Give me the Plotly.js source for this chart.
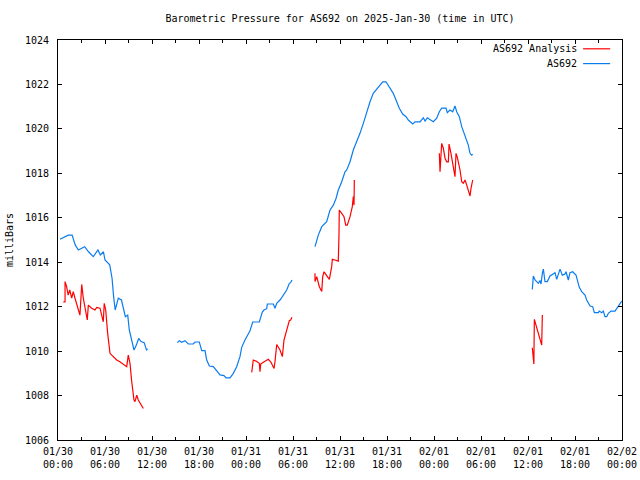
<!DOCTYPE html>
<html>
<head>
<meta charset="utf-8">
<script src="https://cdn.plot.ly/plotly-3.0.1.min.js"></script>
<style>html,body{margin:0;padding:0;background:#fff;}#chart{width:640px;height:480px;}</style>
</head>
<body>
<div id="chart"></div>
<script>
// Hours since 2025-01-30 00:00 UTC; null marks a gap in the record
var stationHours = [0.26,1.3,1.8,2.2,2.6,3.4,3.9,4.5,5.1,5.4,5.8,6.0,6.6,6.9,7.1,7.3,7.7,8.1,8.6,8.9,9.1,9.4,9.7,10.0,10.3,10.6,11.0,11.3,11.45,
  null,
  15.23,15.49,15.79,16.21,16.63,17.27,17.49,18.04,18.35,18.77,18.98,19.32,19.83,20.26,20.68,21.19,21.45,21.96,22.38,22.81,23.23,23.45,23.87,24.51,24.86,25.7,25.88,26.08,26.3,26.64,26.72,27.49,27.7,27.92,28.34,28.76,29.2,29.53,29.7,29.87,
  null,
  32.81,32.94,33.23,33.67,34.3,34.73,35.15,35.49,35.78,36.22,36.64,36.86,37.28,37.7,38.13,38.55,38.98,39.41,39.83,40.25,40.89,41.45,41.87,42.3,42.8,43.24,43.57,44.0,44.43,44.72,45.28,45.58,46.21,46.64,46.86,47.15,47.49,47.91,48.35,48.68,48.98,49.53,49.7,50.04,50.39,50.68,50.9,51.23,51.54,51.83,52.18,52.38,52.6,52.81,52.94,
  null,
  60.55,60.6,60.68,60.9,61.32,61.53,61.66,61.83,61.96,62.17,62.47,62.81,63.23,63.45,63.66,63.87,64.09,64.38,64.72,64.85,65.15,65.36,65.71,66.13,66.35,66.55,66.86,67.28,67.49,67.7,67.92,68.26,68.47,68.98,69.1,69.41,69.62,69.83,70.05,70.25,70.6,71.11,71.33,71.62,71.84,71.97];
var stationPressure = [1015.03,1015.22,1015.22,1014.78,1014.55,1014.7,1014.47,1014.25,1014.55,1014.33,1014.47,1014.1,1013.88,1013.28,1012.45,1011.85,1012.38,1012.3,1011.55,1011.62,1010.95,1010.5,1010.05,1010.27,1010.57,1010.43,1010.38,1010.05,1010.1,
  null,
  1010.38,1010.47,1010.4,1010.47,1010.32,1010.32,1010.41,1010.41,1010.02,1010.02,1009.6,1009.33,1009.3,1009.12,1008.93,1008.9,1008.8,1008.8,1009.0,1009.3,1009.75,1010.17,1010.5,1010.92,1011.31,1011.31,1011.48,1011.76,1011.85,1011.91,1012.12,1012.12,1011.93,1012.15,1012.3,1012.52,1012.75,1013.05,1013.08,1013.2,
  null,
  1014.7,1014.88,1015.22,1015.6,1015.82,1016.35,1016.57,1016.87,1017.25,1017.62,1018.07,1018.15,1018.52,1019.05,1019.42,1019.8,1020.25,1020.77,1021.22,1021.6,1021.9,1022.12,1022.12,1021.9,1021.6,1021.22,1020.93,1020.67,1020.55,1020.4,1020.22,1020.32,1020.32,1020.5,1020.35,1020.5,1020.4,1020.32,1020.48,1020.77,1020.93,1020.93,1020.73,1020.85,1020.77,1021.03,1020.77,1020.55,1020.1,1019.8,1019.5,1019.27,1018.9,1018.82,1018.86,
  null,
  1012.78,1013.1,1013.38,1013.2,1013.05,1013.18,1013.02,1013.5,1013.69,1013.13,1013.13,1013.38,1013.5,1013.53,1013.23,1013.42,1013.69,1013.42,1013.47,1013.57,1013.2,1013.53,1013.57,1013.42,1013.05,1012.87,1012.68,1012.52,1012.3,1012.15,1012.03,1012.0,1011.73,1011.73,1011.8,1011.73,1011.8,1011.55,1011.55,1011.7,1011.8,1011.8,1011.93,1012.07,1012.22,1012.25];

var analysisHours = [0.68,0.9,0.9,1.1,1.3,1.5,1.75,1.95,2.17,2.6,2.8,2.94,3.03,3.23,3.45,3.74,3.87,4.3,4.72,4.94,5.36,5.78,5.9,6.09,6.34,6.64,6.86,7.49,7.9,8.55,8.77,8.97,9.19,9.41,9.7,9.83,10.05,10.25,10.6,10.89,
  null,
  24.73,24.93,25.28,25.7,25.79,25.88,26.21,26.85,27.19,27.58,27.7,27.83,27.92,28.34,28.64,28.85,29.2,29.53,29.7,29.87,
  null,
  32.81,32.81,33.03,33.36,33.67,33.79,33.96,34.3,34.64,34.94,35.02,35.36,35.78,35.87,35.91,36.22,36.51,36.73,36.93,37.28,37.57,37.7,37.79,37.83,
  null,
  48.68,48.77,48.98,49.19,49.41,49.62,49.83,49.92,50.13,50.34,50.47,50.68,50.81,50.98,51.32,51.54,51.74,51.96,52.18,52.38,52.6,52.73,52.94,
  null,
  60.55,60.6,60.68,60.75,60.81,60.9,61.11,61.32,61.53,61.75,61.83];
var analysisPressure = [1012.22,1012.22,1013.13,1012.9,1012.52,1012.75,1012.38,1012.68,1012.38,1011.85,1011.62,1012.45,1013.0,1012.38,1011.93,1011.4,1012.07,1011.93,1011.85,1011.97,1011.93,1011.32,1012.15,1011.85,1010.8,1009.9,1009.82,1009.6,1009.52,1009.38,1009.3,1009.82,1009.45,1008.63,1007.8,1007.73,1008.02,1007.8,1007.57,1007.42,
  null,
  1009.04,1009.6,1009.55,1009.45,1009.07,1009.42,1009.5,1009.63,1009.5,1009.22,1009.52,1009.9,1010.3,1010.05,1009.75,1010.5,1010.95,1011.37,1011.4,1011.52,
  null,
  1013.5,1013.13,1013.35,1012.9,1012.68,1013.35,1013.57,1013.42,1013.23,1013.8,1014.13,1014.1,1014.05,1015.22,1016.35,1016.2,1016.05,1015.67,1015.67,1016.05,1016.5,1016.95,1016.57,1017.7,
  null,
  1018.9,1018.07,1019.35,1019.13,1018.68,1018.52,1018.52,1019.32,1018.97,1018.52,1018.3,1017.85,1018.9,1018.72,1018.15,1017.62,1017.55,1017.7,1017.47,1017.25,1016.98,1017.33,1017.7,
  null,
  1010.15,1009.82,1009.42,1009.42,1011.43,1011.32,1011.1,1010.87,1010.57,1010.27,1011.62];

var tickHours = [0,6,12,18,24,30,36,42,48,54,60,66,72];
var tickLabels = ["01/30<br>00:00","01/30<br>06:00","01/30<br>12:00","01/30<br>18:00",
  "01/31<br>00:00","01/31<br>06:00","01/31<br>12:00","01/31<br>18:00",
  "02/01<br>00:00","02/01<br>06:00","02/01<br>12:00","02/01<br>18:00","02/02<br>00:00"];
var seriesNames = ["AS692 Analysis","AS692"];
var seriesColors = ["#ff0000","#0a7cf0"];

var font = {family:"DejaVu Sans Mono, Liberation Mono, monospace", size:10, color:"#000"};

var traces = [
  {x: analysisHours, y: analysisPressure, name: seriesNames[0], type:"scatter", mode:"lines",
   line:{color:seriesColors[0], width:1.2}, connectgaps:false, hoverinfo:"skip"},
  {x: stationHours, y: stationPressure, name: seriesNames[1], type:"scatter", mode:"lines",
   line:{color:seriesColors[1], width:1.2}, connectgaps:false, hoverinfo:"skip"}
];

var layout = {
  width:640, height:480,
  margin:{l:58, r:18, t:40, b:40, pad:0},
  paper_bgcolor:"#fff", plot_bgcolor:"#fff",
  font: font,
  showlegend:false,
  title:{text:"Barometric Pressure for AS692 on 2025-Jan-30 (time in UTC)", font:font,
         x:0.5, xref:"paper", y:1, yref:"container", yanchor:"top", pad:{t:15}},
  xaxis:{range:[0,72], tickmode:"array", tickvals:tickHours, ticktext:tickLabels,
         ticks:"inside", ticklen:4, tickwidth:1, tickcolor:"#000",
         minor:{dtick:3, ticks:"inside", ticklen:3, tickcolor:"#000", tickwidth:1},
         showline:true, linecolor:"#000", linewidth:1, mirror:"ticks",
         showgrid:false, zeroline:false, tickfont:font, ticklabelstandoff:2, fixedrange:true},
  yaxis:{range:[1006,1024], dtick:2, tick0:1006,
         ticks:"inside", ticklen:4, tickwidth:1, tickcolor:"#000",
         showline:true, linecolor:"#000", linewidth:1, mirror:"ticks",
         showgrid:false, zeroline:false, tickfont:font, ticklabelstandoff:6,
         title:{text:"milliBars", font:font, standoff:9}, fixedrange:true},
  annotations:[
    {text:seriesNames[0], xref:"paper", yref:"paper", x:0.923, y:0.978, xanchor:"right", yanchor:"middle", showarrow:false, font:font},
    {text:seriesNames[1], xref:"paper", yref:"paper", x:0.923, y:0.941, xanchor:"right", yanchor:"middle", showarrow:false, font:font}
  ],
  shapes:[
    {type:"line", xref:"paper", yref:"paper", x0:0.931, x1:0.979, y0:0.978, y1:0.978, line:{color:seriesColors[0], width:1.2}},
    {type:"line", xref:"paper", yref:"paper", x0:0.931, x1:0.979, y0:0.941, y1:0.941, line:{color:seriesColors[1], width:1.2}}
  ]
};

Plotly.newPlot("chart", traces, layout, {staticPlot:true, displayModeBar:false});
</script>
</body>
</html>
